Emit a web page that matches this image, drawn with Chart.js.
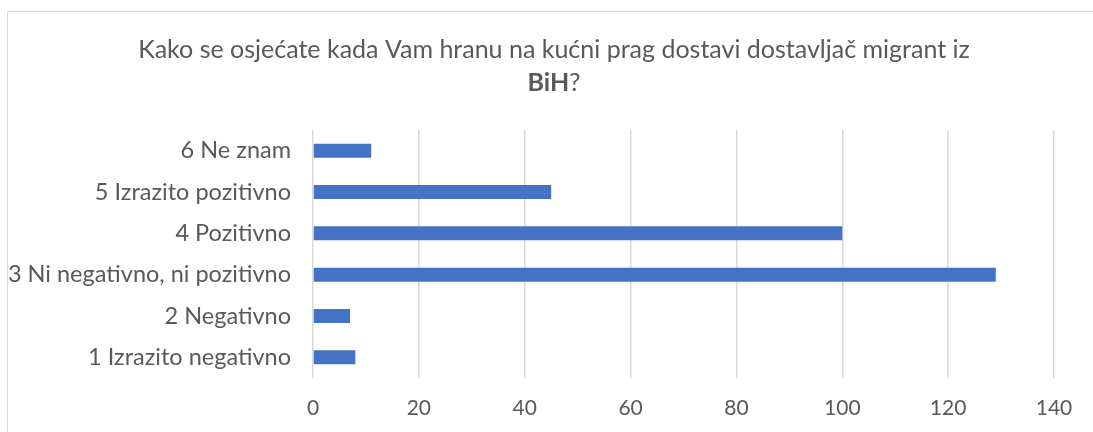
<!DOCTYPE html>
<html>
<head>
<meta charset="utf-8">
<script src="https://cdn.jsdelivr.net/npm/chart.js@4"></script>
<style>
  body { margin: 0; background: #fff; overflow: hidden; }
  #frame {
    position: absolute; left: 7px; top: 11px; width: 1200px; height: 600px;
    border: 1px solid #d9d9d9; box-sizing: border-box;
  }
  #wrap { position: absolute; left: 0; top: 0; width: 1093px; height: 432px; }
</style>
</head>
<body>
<div id="frame"></div>
<div id="wrap"><canvas id="chart"></canvas></div>
<script>
const titleLine1 = "Kako se osjećate kada Vam hranu na kućni prag dostavi dostavljač migrant iz";
const titleBold = "BiH";
const titleRest = "?";

// top to bottom, as in the picture
const categories = [
  "6 Ne znam",
  "5 Izrazito pozitivno",
  "4 Pozitivno",
  "3 Ni negativno, ni pozitivno",
  "2 Negativno",
  "1 Izrazito negativno",
];
const counts = [11, 45, 100, 129, 7, 8];

const xMin = 0;
const xMax = 140;
const xStep = 20;

const FONT = "Lato, sans-serif";
const TEXT = "#595959";

// Title with a bold word on the second line
const titlePlugin = {
  id: "mixedTitle",
  afterDraw(chart) {
    const ctx = chart.ctx;
    const cx = 554;
    ctx.save();
    ctx.fillStyle = TEXT;
    ctx.textBaseline = "alphabetic";
    ctx.font = "25px " + FONT;
    ctx.textAlign = "center";
    ctx.fillText(titleLine1, cx, 58);

    ctx.textAlign = "left";
    ctx.font = "bold 25px " + FONT;
    const wb = ctx.measureText(titleBold).width;
    ctx.font = "25px " + FONT;
    const wr = ctx.measureText(titleRest).width;
    const x = cx - (wb + wr) / 2;
    ctx.font = "bold 25px " + FONT;
    ctx.fillText(titleBold, x, 91);
    ctx.font = "25px " + FONT;
    ctx.fillText(titleRest, x + wb, 91);
    ctx.restore();
  },
};

new Chart(document.getElementById("chart"), {
  type: "bar",
  data: {
    labels: categories,
    datasets: [
      {
        data: counts,
        backgroundColor: "#4472c4",
        barPercentage: 0.34,
        categoryPercentage: 1,
      },
    ],
  },
  options: {
    indexAxis: "y",
    responsive: true,
    maintainAspectRatio: false,
    animation: false,
    layout: { padding: { top: 130, right: 39, left: 0, bottom: 0 } },
    plugins: {
      legend: { display: false },
      title: { display: false },
      tooltip: { enabled: false },
    },
    scales: {
      x: {
        min: xMin,
        max: xMax,
        ticks: {
          stepSize: xStep,
          color: TEXT,
          font: { family: FONT, size: 21 },
          padding: 18,
        },
        grid: { color: "#d9d9d9", lineWidth: 1.5, drawTicks: false },
        border: { display: false },
        afterFit(scale) { scale.height = 54; },
      },
      y: {
        ticks: {
          color: TEXT,
          font: { family: FONT, size: 23.5 },
          padding: 14,
        },
        grid: { display: false },
        border: { display: false },
        afterFit(scale) { scale.width = 313; },
      },
    },
  },
  plugins: [titlePlugin],
});
</script>
</body>
</html>
